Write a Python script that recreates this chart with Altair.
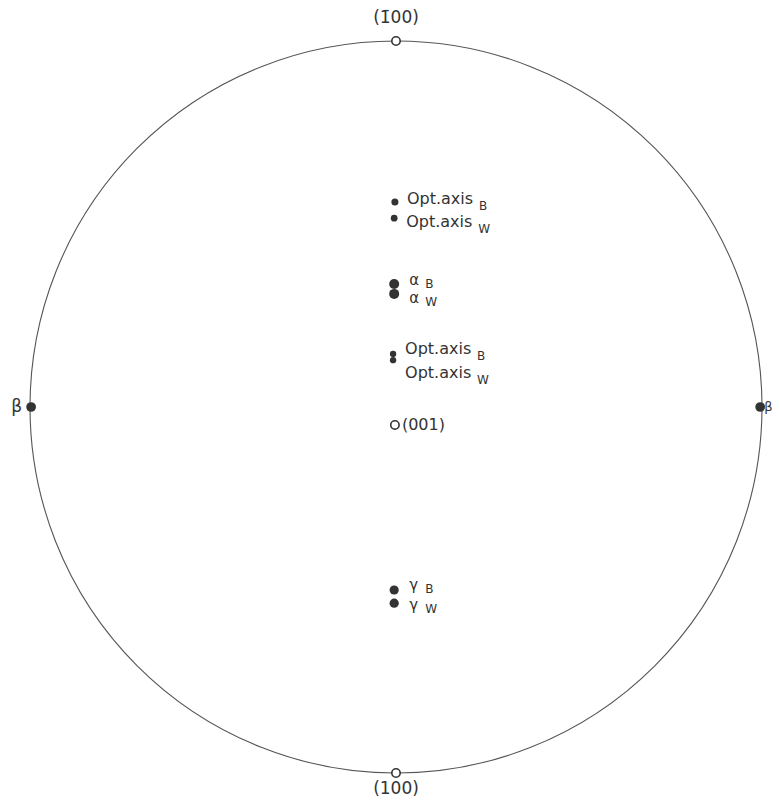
import altair as alt
import pandas as pd

# Stereographic projection, coordinates in units of the primitive-circle radius
dot_names = ["Opt.axis", "Opt.axis", "α", "α", "Opt.axis", "Opt.axis", "γ", "γ"]
dot_subs = ["B", "W", "B", "W", "B", "W", "B", "W"]
dot_x = [-0.003, -0.005, -0.005, -0.005, -0.008, -0.008, -0.005, -0.005]
dot_y = [0.560, 0.516, 0.336, 0.309, 0.145, 0.128, -0.500, -0.536]
dot_size = [50, 45, 100, 100, 40, 40, 85, 85]
label_y = [0.568, 0.505, 0.347, 0.298, 0.158, 0.093, -0.486, -0.541]

beta_x = [-0.997, 0.995]
beta_y = [0.0, 0.0]
beta_text = ["β", "β"]

open_names = ["(1\u0304" + "00)", "(100)", "(001)"]
open_x = [0.0, 0.0, -0.003]
open_y = [1.0, -1.0, -0.049]
open_label_y = [1.063, -1.044, -0.049]

W, H = 764, 796
XDOM = [-388 / 366, (W - 388) / 366]
YDOM = [-(H - 399) / 366, 399 / 366]
INK = "#333333"
FONT = "DejaVu Sans"

xs = alt.Scale(domain=XDOM, nice=False, zero=False, padding=0)
ys = alt.Scale(domain=YDOM, nice=False, zero=False, padding=0)

dots = pd.DataFrame({"name": dot_names, "sub": dot_subs, "x": dot_x, "y": dot_y,
                     "size": dot_size, "ly": label_y})
dots["kind"] = ["opt" if n.startswith("Opt") else "greek" for n in dot_names]
betas = pd.DataFrame({"x": beta_x, "y": beta_y, "t": beta_text})
opens = pd.DataFrame({"name": open_names, "x": open_x, "y": open_y, "ly": open_label_y})
centre = pd.DataFrame({"x": [0.0], "y": [0.0]})

X = lambda f="x": alt.X(f"{f}:Q", scale=xs, axis=None)
Y = lambda f="y": alt.Y(f"{f}:Q", scale=ys, axis=None)

circle = alt.Chart(centre).mark_point(
    shape="circle", filled=False, size=732 ** 2, strokeWidth=1.1, color="#555555", opacity=1
).encode(x=X(), y=Y())

dot_layer = alt.Chart(dots).mark_point(filled=True, shape="circle", color=INK, opacity=1).encode(
    x=X(), y=Y(), size=alt.Size("size:Q", scale=None, legend=None))

main_opt = alt.Chart(dots).transform_filter("datum.kind == 'opt'").mark_text(
    align="left", baseline="middle", dx=12, font=FONT, fontSize=16, color=INK
).encode(x=X(), y=Y("ly"), text="name:N")
sub_opt = alt.Chart(dots).transform_filter("datum.kind == 'opt'").mark_text(
    align="left", baseline="middle", dx=84, dy=7, font=FONT, fontSize=12, color=INK
).encode(x=X(), y=Y("ly"), text="sub:N")

main_gr = alt.Chart(dots).transform_filter("datum.kind == 'greek'").mark_text(
    align="left", baseline="middle", dx=15, font=FONT, fontSize=15, color=INK
).encode(x=X(), y=Y("ly"), text="name:N")
sub_gr = alt.Chart(dots).transform_filter("datum.kind == 'greek'").mark_text(
    align="left", baseline="middle", dx=31, dy=4, font=FONT, fontSize=12, color=INK
).encode(x=X(), y=Y("ly"), text="sub:N")

beta_dots = alt.Chart(betas).mark_point(filled=True, shape="circle", size=95, color=INK, opacity=1).encode(
    x=X(), y=Y())
beta_left = alt.Chart(betas).transform_filter("datum.x < 0").mark_text(
    align="right", baseline="middle", dx=-9, font=FONT, fontSize=17, color=INK
).encode(x=X(), y=Y(), text="t:N")
beta_right = alt.Chart(betas).transform_filter("datum.x > 0").mark_text(
    align="left", baseline="middle", dx=4, font=FONT, fontSize=13, color=INK
).encode(x=X(), y=Y(), text="t:N")

open_pts = alt.Chart(opens).mark_point(filled=False, shape="circle", size=70, strokeWidth=1.6,
                                       color=INK, fill="white", opacity=1).encode(x=X(), y=Y())
open_pole_labels = alt.Chart(opens).transform_filter("datum.name != '(001)'").mark_text(
    align="center", baseline="middle", font=FONT, fontSize=17, color=INK
).encode(x=X(), y=Y("ly"), text="name:N")
open_001 = alt.Chart(opens).transform_filter("datum.name == '(001)'").mark_text(
    align="left", baseline="middle", dx=7, font=FONT, fontSize=16, color=INK
).encode(x=X(), y=Y("ly"), text="name:N")

chart = alt.layer(
    circle, dot_layer, main_opt, sub_opt, main_gr, sub_gr,
    beta_dots, beta_left, beta_right, open_pts, open_pole_labels, open_001
).properties(
    width=W, height=H, padding=0, autosize=alt.AutoSizeParams(type="none"), background="white"
).configure_view(stroke=None)

chart.save("out.html", embed_options={"renderer": "svg", "actions": False})
